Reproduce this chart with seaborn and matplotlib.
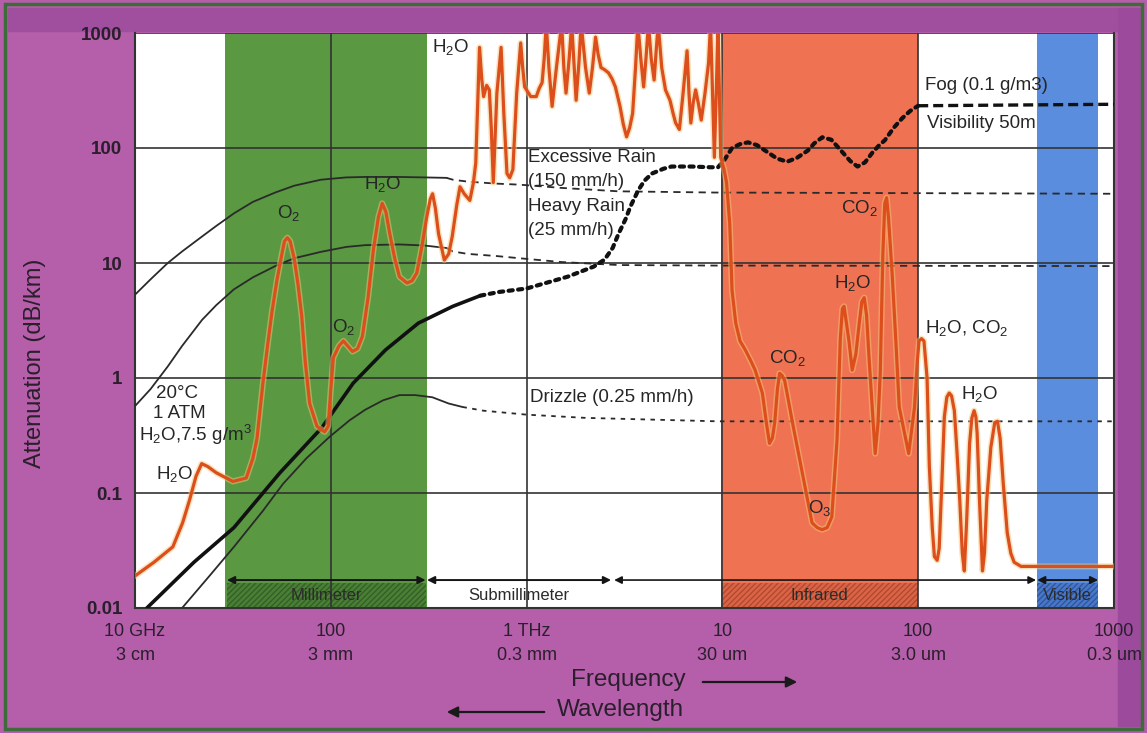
import matplotlib
matplotlib.use("Agg")
import matplotlib.pyplot as plt
import matplotlib.patheffects as pe
from matplotlib.patches import Rectangle, FancyArrowPatch
import seaborn as sns
import pandas as pd

sns.set_theme(style="white")
plt.rcParams['font.family'] = ['Liberation Sans', 'DejaVu Sans']
plt.rcParams['mathtext.fontset'] = 'custom'
plt.rcParams['mathtext.rm'] = 'Liberation Sans'
plt.rcParams['mathtext.it'] = 'Liberation Sans:italic'
plt.rcParams['mathtext.bf'] = 'Liberation Sans:bold'

# ---------------- data (frequency in GHz, attenuation in dB/km) ----------------
gas_mm_freq = [10, 12.5, 15.6, 17.5, 19, 20.5, 21.9, 23.5, 26, 31.6, 37, 40, 42, 45, 47.5, 50,
               53, 56, 58, 60, 62, 65, 68, 71, 74, 78, 85, 93, 97, 100, 103, 110, 116, 122, 129,
               137, 145, 155, 165, 175, 183, 191, 200, 212, 224, 245, 260, 275, 292, 309, 322,
               331, 342, 355, 380, 400, 417, 440, 457, 480, 513, 535, 550]
gas_mm_atten = [0.019, 0.025, 0.034, 0.055, 0.087, 0.14, 0.18, 0.17, 0.15, 0.126, 0.135, 0.2,
                0.3, 0.9, 1.9, 3.7, 7, 11.5, 15.5, 16.6, 15.5, 11, 6.5, 3.5, 1.4, 0.6, 0.38,
                0.34, 0.38, 0.8, 1.5, 1.9, 2.1, 1.9, 1.7, 1.8, 2.3, 5, 13, 25, 33, 28, 18, 11,
                7.6, 6.7, 7, 8.2, 14, 25, 36, 40, 30, 18, 10.6, 12, 17, 32, 46, 40, 35, 50, 74]

gas_submm_freq = [575, 590, 603, 625, 645, 660, 676, 705, 741, 765, 794, 820, 851, 890, 933,
                  955, 977, 1050, 1120, 1160, 1200, 1230, 1260, 1300, 1350, 1420, 1510, 1550,
                  1590, 1650, 1700, 1750, 1790, 1850, 1900, 2000, 2090, 2170, 2250, 2320, 2400,
                  2500, 2620, 2730, 2840, 2920, 3000, 3120, 3240, 3360, 3480, 3600, 3700, 3830,
                  3960, 4070, 4190, 4330, 4480, 4590, 4700, 4900, 5120, 5250, 5400, 5600, 5770,
                  5900, 6030, 6300, 6600, 6750, 6900, 7100, 7300, 7550, 7800, 8150, 8500, 8700,
                  8900, 9100, 9300, 9500, 9650]
gas_submm_atten = [750, 400, 280, 350, 320, 150, 50, 300, 750, 200, 60, 55, 65, 300, 820, 500,
                   340, 280, 280, 330, 370, 600, 1200, 500, 230, 500, 1200, 500, 300, 600, 1200,
                   500, 260, 550, 1200, 500, 300, 500, 920, 650, 500, 480, 450, 400, 340, 280,
                   230, 160, 125, 150, 200, 500, 1200, 600, 340, 600, 1200, 600, 390, 700, 1200,
                   500, 320, 290, 260, 200, 165, 155, 145, 300, 700, 300, 165, 250, 320, 240,
                   175, 300, 550, 1200, 300, 83, 300, 1200, 300]

gas_ir_freq = [9800, 10200, 10500, 10900, 11200, 11700, 12300, 13100, 14000, 14700, 16000,
               16800, 17400, 18000, 18500, 19100, 19600, 20200, 20800, 22800, 25600, 28700,
               30500, 32300, 34300, 36200, 38500, 40000, 41000, 41800, 43000, 44300, 46000,
               48000, 50000, 51500, 53000, 54500, 56100, 60300, 62300, 64000, 66000, 67500,
               69000, 70500, 73600, 77000, 80000, 89400, 95800, 99000, 101000, 104000, 107000]
gas_ir_atten = [83, 65, 50, 22, 5.8, 3, 2.1, 1.75, 1.4, 1.17, 0.74, 0.4, 0.27, 0.3, 0.41, 0.8,
                1.1, 1.05, 0.95, 0.41, 0.15, 0.055, 0.05, 0.048, 0.05, 0.062, 0.29, 2.2, 4.0,
                4.2, 3.0, 2.1, 1.17, 1.6, 3.0, 4.6, 5.0, 3.5, 1.5, 0.22, 0.4, 1.1, 12, 33, 37,
                25, 8.1, 2, 0.56, 0.22, 0.56, 1.4, 2.1, 2.2, 2.1]

gas_nir_freq = [111000, 114000, 118000, 121000, 125000, 128000, 132000, 136000, 140000, 144000,
                148000, 153000, 158000, 163000, 168000, 172000, 177000, 183000, 188000, 193000,
                197000, 200000, 206000, 213000, 218000, 224000, 235000, 246000, 254000, 262000,
                272000, 285000, 297000, 309000, 335000, 372000, 1000000]
gas_nir_atten = [1.0, 0.17, 0.05, 0.028, 0.026, 0.033, 0.12, 0.46, 0.68, 0.74, 0.7, 0.52, 0.22,
                 0.087, 0.03, 0.021, 0.06, 0.27, 0.45, 0.52, 0.46, 0.33, 0.08, 0.021, 0.03,
                 0.087, 0.25, 0.41, 0.42, 0.30, 0.12, 0.045, 0.03, 0.025, 0.023, 0.023, 0.023]

fog_freq = [11.5, 20, 32, 55, 90, 130, 190, 280, 420, 580, 724, 1000, 1620, 2200, 2500, 2750,
            2950, 3200, 3390, 3720, 4000, 4370, 5000, 5500, 7000, 8700, 9500, 10300, 11200,
            12300, 13500, 15000, 17000, 19000, 21400, 24000, 27300, 29500, 32400, 36000, 41000,
            45000, 49000, 53500, 58600, 63000, 67600, 75000, 83000, 91000, 100000, 1000000]
fog_atten = [0.01, 0.025, 0.05, 0.15, 0.37, 0.9, 1.75, 3.0, 4.2, 5.2, 5.6, 6.0, 7.6, 9.3, 10.7,
             13.5, 18, 24, 31, 43, 52, 60, 66, 69, 69, 68, 68, 80, 100, 108, 112, 106, 92, 81,
             76, 82, 95, 110, 124, 118, 92, 77, 69, 75, 92, 105, 117, 150, 182, 210, 233, 240]
fog_solid_until = 580
fog_dotted_until = 100000

rain_freq = [10, 12, 14.7, 17.4, 22, 26, 32, 40, 52, 65, 89, 120, 150, 224, 300, 390, 420, 500,
             700, 920, 1500, 2950, 9100, 1000000]
excessive_atten = [5.3, 7.2, 10, 12.6, 17, 21, 27, 34, 41, 47, 53, 55.5, 56, 56, 55.5, 55, 53,
                   51, 49, 48, 45, 42, 41, 40]
heavy_atten = [0.57, 0.8, 1.26, 1.9, 3.2, 4.3, 5.9, 7.5, 9.4, 11, 12.5, 13.8, 14.3, 14.5, 14.2,
               13.5, 12.6, 12, 11.5, 11, 10.2, 9.6, 9.5, 9.4]
rain_solid_until = 390
drizzle_freq = [17.4, 24, 32, 45, 57, 75, 99, 125, 150, 185, 224, 270, 330, 400, 470, 600, 1000,
                2000, 9500, 1000000]
drizzle_atten = [0.01, 0.019, 0.034, 0.07, 0.12, 0.2, 0.31, 0.43, 0.53, 0.64, 0.71, 0.71, 0.68,
                 0.6, 0.56, 0.52, 0.48, 0.45, 0.42, 0.42]
drizzle_solid_until = 470

bands = ["Millimeter", "Submillimeter", "Infrared", "Visible"]
band_lo = [29.5, 310, 9800, 405000]
band_hi = [305, 2700, 100000, 830000]

y_ticks = [0.01, 0.1, 1, 10, 100, 1000]
y_labels = ["0.01", "0.1", "1", "10", "100", "1000"]
x_ticks = [10, 100, 1000, 10000, 100000, 1000000]
x_freq_labels = ["10 GHz", "100", "1 THz", "10", "100", "1000"]
x_wave_labels = ["3 cm", "3 mm", "0.3 mm", "30 um", "3.0 um", "0.3 um"]

gas_freq = gas_mm_freq + gas_submm_freq + gas_ir_freq + gas_nir_freq
gas_atten = gas_mm_atten + gas_submm_atten + gas_ir_atten + gas_nir_atten
assert len(gas_freq) == len(gas_atten)
assert len(fog_freq) == len(fog_atten)
assert len(rain_freq) == len(excessive_atten) == len(heavy_atten)
assert len(drizzle_freq) == len(drizzle_atten)

# ---------------- figure ----------------
W, H = 1147, 733
fig = plt.figure(figsize=(W / 100, H / 100), dpi=100, facecolor='#b55ea9')
fig.patches.append(Rectangle((8 / W, 1 - 31 / H), 1132 / W, 23 / H, transform=fig.transFigure,
                             color='#a04f9f', zorder=-2))
fig.patches.append(Rectangle((1118 / W, 1 - 726 / H), 22 / W, 718 / H, transform=fig.transFigure,
                             color='#9c4b9c', zorder=-2))
fig.patches.append(Rectangle((0.004, 0.006), 0.992, 0.988, transform=fig.transFigure,
                             fill=False, edgecolor='#3e6b3a', lw=2.5, zorder=-1))

ax = fig.add_axes([135 / W, 1 - 608 / H, (1114 - 135) / W, (608 - 33) / H])
ax.set_facecolor('white')
ax.set_xscale('log')
ax.set_yscale('log')
ax.set_xlim(10, 1e6)
ax.set_ylim(0.01, 1000)

# colour bands
ax.axvspan(28.7, 311, color='#5a9842', lw=0, zorder=0)
ax.axvspan(9800, 100000, color='#ef7253', lw=0, zorder=0)
ax.axvspan(405000, 830000, color='#5b8ddf', lw=0, zorder=0)

# grid and ticks
ax.set_xticks(x_ticks)
ax.set_xticklabels([f + "\n" + w for f, w in zip(x_freq_labels, x_wave_labels)],
                   fontsize=13, color='#2a1f2c', linespacing=1.5)
ax.set_yticks(y_ticks)
ax.set_yticklabels(y_labels, fontsize=13.5, color='#2a1f2c', fontweight='bold')
ax.minorticks_off()
ax.tick_params(axis='x', length=0, pad=11)
ax.tick_params(axis='y', length=0, pad=9)
ax.grid(True, which='major', color='#333333', lw=1.2, zorder=1)
ax.set_axisbelow(False)
for s in ['left', 'bottom', 'right']:
    ax.spines[s].set_color('#333333')
    ax.spines[s].set_linewidth(1.5)
ax.spines['top'].set_visible(False)


def seg(fr, at, lo, hi):
    d = pd.DataFrame({"f": fr, "a": at})
    return d[(d.f >= lo) & (d.f <= hi)]


def line(d, **kw):
    sns.lineplot(data=d, x="f", y="a", ax=ax, sort=False, estimator=None, legend=False, **kw)


# rain curves
for at in [excessive_atten, heavy_atten]:
    line(seg(rain_freq, at, 0, rain_solid_until), color='#2a2a2a', lw=1.3, zorder=3)
    line(seg(rain_freq, at, rain_solid_until, 1e7), color='#2a2a2a', lw=1.3,
         linestyle=(0, (4, 3)), zorder=3)
line(seg(drizzle_freq, drizzle_atten, 0, drizzle_solid_until), color='#2a2a2a', lw=1.3, zorder=3)
line(seg(drizzle_freq, drizzle_atten, drizzle_solid_until, 1e7), color='#2a2a2a', lw=1.3,
     linestyle=(0, (2.5, 3)), zorder=3)

# fog curve
line(seg(fog_freq, fog_atten, 0, fog_solid_until), color='#111111', lw=2.6, zorder=3)
line(seg(fog_freq, fog_atten, fog_solid_until, fog_dotted_until), color='#111111', lw=3.0,
     linestyle=(0, (1.0, 1.3)), dash_capstyle='round', zorder=3)
line(seg(fog_freq, fog_atten, fog_dotted_until, 1e7), color='#111111', lw=2.4,
     linestyle=(0, (3, 1.5)), zorder=3)

# gaseous absorption curve
sns.lineplot(x=gas_freq, y=gas_atten, ax=ax, sort=False, estimator=None, color='#dc4f1c',
             lw=2.3, zorder=4, solid_joinstyle='round',
             path_effects=[pe.Stroke(linewidth=4.4, foreground='#f2c779', alpha=0.5), pe.Normal()])

# band labels, arrows and hatched boxes
arrow_y = 0.0175
box_face = ['#4a8035', None, '#dc6446', '#4a78c8']
box_hatch = ['#355f27', None, '#b04a30', '#2f56a0']
for name, lo, hi, fc, hc in zip(bands, band_lo, band_hi, box_face, box_hatch):
    if fc is not None:
        ax.add_patch(Rectangle((lo, 0.0101), hi - lo, 0.0063, facecolor=fc, edgecolor=hc,
                               hatch='//////', lw=0, zorder=2))
    if name != "Infrared":
        ax.annotate("", xy=(hi, arrow_y), xytext=(lo, arrow_y), zorder=5,
                    arrowprops=dict(arrowstyle='<|-|>', color='#151515', lw=1.4,
                                    mutation_scale=11, shrinkA=0, shrinkB=0))
    cx = (lo * hi) ** 0.5
    ax.text(cx, 0.0128, name, ha='center', va='center', fontsize=12, color='#2b2b2b', zorder=6)
ax.annotate("", xy=(400000, arrow_y), xytext=(2800, arrow_y), zorder=5,
            arrowprops=dict(arrowstyle='<|-|>', color='#151515', lw=1.2,
                            mutation_scale=11, shrinkA=0, shrinkB=0))

# annotations
tk = dict(fontsize=13.5, color='#262626', zorder=6)
ax.text(410, 760, "H$_2$O", ha='center', va='center', **tk)
ax.text(1020, 83, "Excessive Rain", ha='left', va='center', **tk)
ax.text(1020, 51, "(150 mm/h)", ha='left', va='center', **tk)
ax.text(1020, 31, "Heavy Rain", ha='left', va='center', **tk)
ax.text(1020, 19.3, "(25 mm/h)", ha='left', va='center', **tk)
ax.text(1040, 0.68, "Drizzle (0.25 mm/h)", ha='left', va='center', **tk)
ax.text(108600, 353, "Fog (0.1 g/m3)", ha='left', va='center', **tk)
ax.text(110900, 162, "Visibility 50m", ha='left', va='center', **tk)
ax.text(60.8, 27, "O$_2$", ha='center', va='center', **tk)
ax.text(116, 2.8, "O$_2$", ha='center', va='center', **tk)
ax.text(183, 49, "H$_2$O", ha='center', va='center', **tk)
ax.text(16, 0.146, "H$_2$O", ha='center', va='center', **tk)
ax.text(16.3, 0.73, "20°C", ha='center', va='center', **tk)
ax.text(16.9, 0.49, "1 ATM", ha='center', va='center', **tk)
ax.text(20.4, 0.32, "H$_2$O,7.5 g/m$^3$", ha='center', va='center', **tk)
ax.text(50000, 30, "CO$_2$", ha='center', va='center', **tk)
ax.text(46100, 6.7, "H$_2$O", ha='center', va='center', **tk)
ax.text(21500, 1.5, "CO$_2$", ha='center', va='center', **tk)
ax.text(31300, 0.074, "O$_3$", ha='center', va='center', **tk)
ax.text(108600, 2.7, "H$_2$O, CO$_2$", ha='left', va='center', **tk)
ax.text(207000, 0.72, "H$_2$O", ha='center', va='center', **tk)

ax.set_xlabel("")
ax.set_ylabel("")

# axis titles
fig.text(35 / W, 1 - 363 / H, "Attenuation (dB/km)", rotation=90, ha='center', va='center',
         fontsize=17, color='#2a1f2c')
fig.text(628 / W, 1 - 680 / H, "Frequency", ha='center', va='center', fontsize=17.5,
         color='#2a1f2c')
fig.text(620 / W, 1 - 710 / H, "Wavelength", ha='center', va='center', fontsize=17.5,
         color='#2a1f2c')
fig.add_artist(FancyArrowPatch((700 / W, 1 - 682 / H), (800 / W, 1 - 682 / H),
               transform=fig.transFigure, arrowstyle='-|>', mutation_scale=16, color='#1a1a1a',
               lw=1.6))
fig.add_artist(FancyArrowPatch((547 / W, 1 - 712 / H), (444 / W, 1 - 712 / H),
               transform=fig.transFigure, arrowstyle='-|>', mutation_scale=16, color='#1a1a1a',
               lw=1.6))

fig.savefig("out.png", dpi=100, facecolor=fig.get_facecolor())
